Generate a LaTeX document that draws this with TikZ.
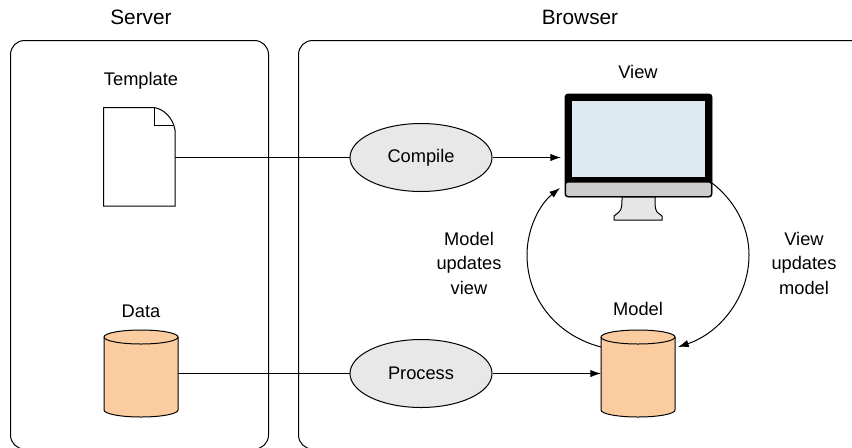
\documentclass[tikz,border=0pt]{standalone}
\usepackage{fontspec}
\setmainfont{Liberation Sans}
\usepackage{tikz}
\usetikzlibrary{shapes.geometric,arrows.meta}
\definecolor{bodyorange}{HTML}{FBCCA0}
\definecolor{ovalgrey}{HTML}{E8E8E8}
\definecolor{screenblue}{HTML}{DEEAF2}
\definecolor{bezelgrey}{HTML}{CDCDCD}
\definecolor{standgrey}{HTML}{E6E6E6}
\tikzstyle{line} = [draw, line width=0.75pt]
\tikzstyle{arrow} = [draw, line width=0.75pt, -{Latex[length=8pt,width=5.5pt]}]
\tikzstyle{panel} = [draw, line width=0.75pt, rounded corners=10.5pt]
\tikzstyle{oval} = [ellipse, draw, line width=0.75pt, fill=ovalgrey, minimum width=106.5pt, minimum height=51pt, inner sep=0pt]
\tikzstyle{anchorbox} = [inner sep=0pt, outer sep=0pt]
\tikzstyle{label} = [font=\fontsize{13.7}{18.4}\selectfont, align=center, inner sep=0pt]
\tikzstyle{header} = [font=\fontsize{15.6}{18.4}\selectfont, inner sep=0pt]
% database can, drawn round an empty node
\newcommand{\drawcan}[3]{
  \node [anchorbox, minimum width=55.5pt, minimum height=65pt] (#1) at (#2,#3) {};
  \draw [line width=0.75pt, fill=bodyorange] (#2-37,#3-36.5) arc [start angle=180, end angle=360, x radius=37, y radius=7]
    -- (#2+37,#3+36.5) arc [start angle=0, end angle=180, x radius=37, y radius=7] -- cycle;
  \draw [line width=0.75pt] (#2-37,#3-36.5) arc [start angle=180, end angle=0, x radius=37, y radius=7];
}
\begin{document}
\begin{tikzpicture}[x=0.75pt, y=-0.75pt]
\useasboundingbox (0,0) rectangle (852,447);
% panels
\begin{scope}
\clip (0,0) rectangle (852,447);
\draw [panel] (10.5,40.5) rectangle (268.5,449);
\draw [panel] (298.5,40.5) rectangle (864,449);
\end{scope}
\node [header] (server) at (141,17) {Server};
\node [header] (browser) at (580,17) {Browser};
% template page
\node [anchorbox, minimum width=54pt, minimum height=74pt] (template) at (139,157.5) {};
\draw [line width=0.75pt, fill=white] (103.5,107.5) -- (154,107.5) .. controls (164,109) and (173,118) .. (175,130) -- (175,206) -- (103.5,206) -- cycle;
\draw [line width=0.75pt] (154,107.5) -- (154,125) -- (173,125);
\node [label] (templatelabel) at (141,81) {Template};
% data and model
\drawcan{data}{141}{373.5}
\node [label] (datalabel) at (141,311) {Data};
\drawcan{model}{638}{373.5}
\node [label] (modellabel) at (638,309) {Model};
% ovals
\node [oval, label] (compile) at (421,157.5) {Compile};
\node [oval, label] (process) at (421,373.5) {Process};
% monitor
\node [anchorbox, minimum width=110.25pt, minimum height=77pt] (view) at (638.5,145.5) {};
\draw [fill=black, rounded corners=2pt] (565,94) rectangle (712,197);
\fill [screenblue] (572,101) rectangle (705,176.5);
\draw [fill=bezelgrey, line width=0.75pt, rounded corners=2pt] (565.5,182) -- (711.5,182) -- (711.5,196.5) -- (565.5,196.5) -- cycle;
\draw [fill=standgrey, line width=0.75pt] (622,197) .. controls (622,205) and (622,209) .. (619,212) -- (614,216) -- (614,220) -- (662,220) -- (662,216) -- (657,212) .. controls (655,209) and (655,205) .. (655,197) -- cycle;
\node [label] (viewlabel) at (638,72) {View};
% connectors
\coordinate (viewin) at (560,188);
\coordinate (viewout) at (712,183);
\coordinate (modelin) at (678,347);
\coordinate (modelout) at (601,347);
\path [line] (template.east) -- (compile.west);
\path [line] (data.east) -- (process.west);
\path [arrow, shorten >=3pt] (compile.east) -- (compile.east -| view.west);
\path [arrow] (process.east) -- (model.west);
\path [arrow] (modelout) .. controls (558,336) and (527,300) .. (527,255) .. controls (527,228) and (540,204) .. (viewin);
\path [arrow] (viewout) .. controls (734,200) and (749,226) .. (749,255) .. controls (749,297) and (720,333) .. (modelin);
\node [label] (leftnote) at (469,263) {Model\\updates\\view};
\node [label] (rightnote) at (804,263) {View\\updates\\model};
\end{tikzpicture}
\end{document}
